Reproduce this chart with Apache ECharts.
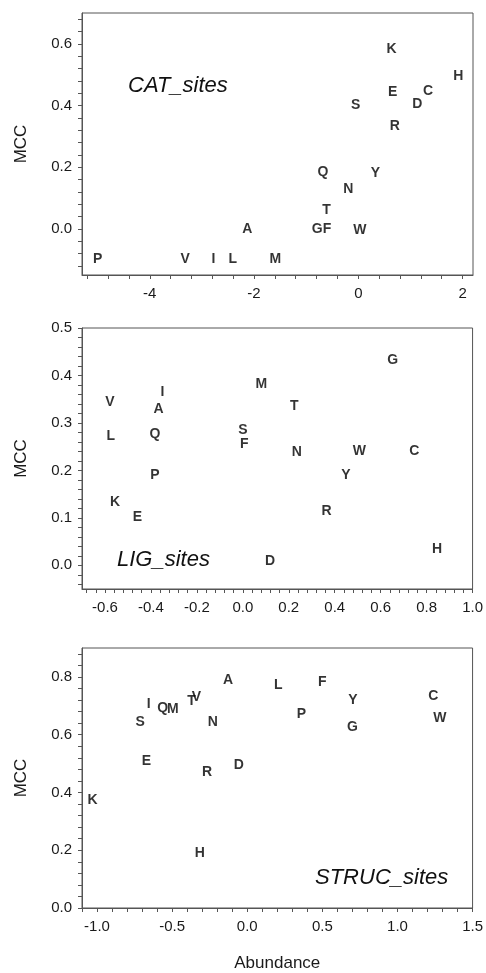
<!DOCTYPE html>
<html><head><meta charset="utf-8">
<script src="https://cdn.jsdelivr.net/npm/echarts@6/dist/echarts.min.js"></script>
<style>html,body{margin:0;padding:0;background:#fff}#c{width:486px;height:973px}</style>
</head><body><div id="c"></div>
<script>
// ---- Data ----
const catLetters = ['K','H','E','C','D','S','R','Q','Y','N','T','G','F','W','A','P','V','I','L','M'];
const catX = [0.64,1.92,0.66,1.34,1.13,-0.05,0.70,-0.68,0.33,-0.19,-0.61,-0.79,-0.60,0.03,-2.13,-5.0,-3.32,-2.78,-2.41,-1.59];
const catY = [0.584,0.494,0.443,0.447,0.403,0.40,0.332,0.184,0.181,0.128,0.061,0.0,0.0,-0.004,0.0,-0.098,-0.098,-0.098,-0.098,-0.098];

const ligLetters = ['G','M','I','V','A','T','S','F','L','Q','N','W','C','P','Y','K','E','R','H','D'];
const ligX = [0.652,0.081,-0.35,-0.579,-0.367,0.224,0.0,0.006,-0.575,-0.383,0.235,0.507,0.746,-0.383,0.449,-0.556,-0.459,0.364,0.845,0.119];
const ligY = [0.433,0.381,0.365,0.344,0.329,0.336,0.285,0.256,0.272,0.276,0.238,0.241,0.241,0.189,0.189,0.133,0.102,0.115,0.034,0.009];

const strucLetters = ['A','L','F','C','Y','W','I','Q','M','T','V','S','N','P','G','E','R','D','K','H'];
const strucX = [-0.127,0.207,0.5,1.238,0.704,1.282,-0.656,-0.562,-0.496,-0.371,-0.338,-0.712,-0.229,0.36,0.70,-0.671,-0.267,-0.056,-1.029,-0.316];
const strucY = [0.790,0.771,0.781,0.733,0.718,0.657,0.707,0.691,0.689,0.716,0.729,0.643,0.643,0.672,0.626,0.51,0.472,0.495,0.373,0.189];

// ---- Tick labels ----
const catXTicks = [-4,-2,0,2];
const catYTicks = [0.0,0.2,0.4,0.6];
const ligXTicks = [-0.6,-0.4,-0.2,0.0,0.2,0.4,0.6,0.8,1.0];
const ligYTicks = [0.0,0.1,0.2,0.3,0.4,0.5];
const strucXTicks = [-1.0,-0.5,0.0,0.5,1.0,1.5];
const strucYTicks = [0.0,0.2,0.4,0.6,0.8];

const panelTitles = ['CAT_sites','LIG_sites','STRUC_sites'];

function tickRange(start, end, step){
  const out=[]; const n=Math.round((end-start)/step);
  for(let i=0;i<=n;i++) out.push(Math.round((start+i*step)*1000)/1000);
  return out;
}

const FONT = 'Liberation Sans, Arial, Helvetica, sans-serif';
const FRAME = '#555';

const gridsPos = [
  {top:13, height:262},
  {top:328, height:261},
  {top:648, height:263}
];

const xSpecs = [
  {min:-5.3,max:2.2,labels:catXTicks,ticks:tickRange(-5.2,2.0,0.4),fmt:v=>String(Math.round(v))},
  {min:-0.7,max:1.0,labels:ligXTicks,ticks:tickRange(-0.68,1.0,0.04),fmt:v=>v.toFixed(1)},
  {min:-1.1,max:1.5,labels:strucXTicks,ticks:tickRange(-1.1,1.5,0.1),fmt:v=>v.toFixed(1),name:'Abundance'}
];
const ySpecs = [
  {min:-0.15,max:0.7,labels:catYTicks,ticks:tickRange(-0.12,0.68,0.04)},
  {min:-0.05,max:0.5,labels:ligYTicks,ticks:tickRange(-0.04,0.5,0.02)},
  {min:0,max:0.9,labels:strucYTicks,ticks:tickRange(0,0.88,0.04)}
];

const grid = gridsPos.map(g=>({left:82,right:13,top:g.top,height:g.height,show:true,borderColor:FRAME,borderWidth:1,backgroundColor:'transparent'}));

const xAxis = xSpecs.map((s,i)=>({
  type:'value', gridIndex:i, min:s.min, max:s.max,
  name:s.name||'', nameLocation:'middle', nameGap:47,
  nameTextStyle:{fontSize:17,color:'#1a1a1a',fontFamily:FONT},
  axisLine:{show:true,onZero:false,lineStyle:{color:FRAME,width:1}},
  axisTick:{show:true,inside:false,length:4,customValues:s.ticks,lineStyle:{color:FRAME}},
  axisLabel:{show:true,customValues:s.labels,formatter:s.fmt,fontSize:15,color:'#1a1a1a',fontFamily:FONT,margin:11},
  splitLine:{show:false}
}));
const yAxis = ySpecs.map((s,i)=>({
  type:'value', gridIndex:i, min:s.min, max:s.max,
  name:'MCC', nameLocation:'middle', nameGap:52, nameRotate:90,
  nameTextStyle:{fontSize:17,color:'#1a1a1a',fontFamily:FONT},
  axisLine:{show:true,onZero:false,lineStyle:{color:FRAME,width:1}},
  axisTick:{show:true,inside:false,length:4,customValues:s.ticks,lineStyle:{color:FRAME}},
  axisLabel:{show:true,customValues:s.labels,formatter:v=>v.toFixed(1),fontSize:15,color:'#1a1a1a',fontFamily:FONT,margin:10},
  splitLine:{show:false}
}));

function mk(letters,xs,ys){return letters.map((l,k)=>({name:l,value:[xs[k],ys[k]]}));}
const seriesData = [mk(catLetters,catX,catY), mk(ligLetters,ligX,ligY), mk(strucLetters,strucX,strucY)];

const series = seriesData.map((d,i)=>({
  type:'scatter', xAxisIndex:i, yAxisIndex:i, data:d, symbolSize:1,
  itemStyle:{color:'rgba(0,0,0,0)'}, silent:true,
  label:{show:true,position:'inside',formatter:'{b}',fontSize:14,fontWeight:'bold',color:'#000',fontFamily:FONT}
}));

const titlePos = [{left:128,top:75},{left:117,top:549},{left:315,top:867}];
const title = panelTitles.map((t,i)=>({text:t,left:titlePos[i].left,top:titlePos[i].top,padding:0,
  textStyle:{fontSize:22,fontStyle:'italic',fontWeight:'normal',color:'#111',fontFamily:FONT}}));

const chart = echarts.init(document.getElementById('c'),null,{renderer:'canvas'});
chart.setOption({animation:false,backgroundColor:'#fff',title,grid,xAxis,yAxis,series});
</script></body></html>
